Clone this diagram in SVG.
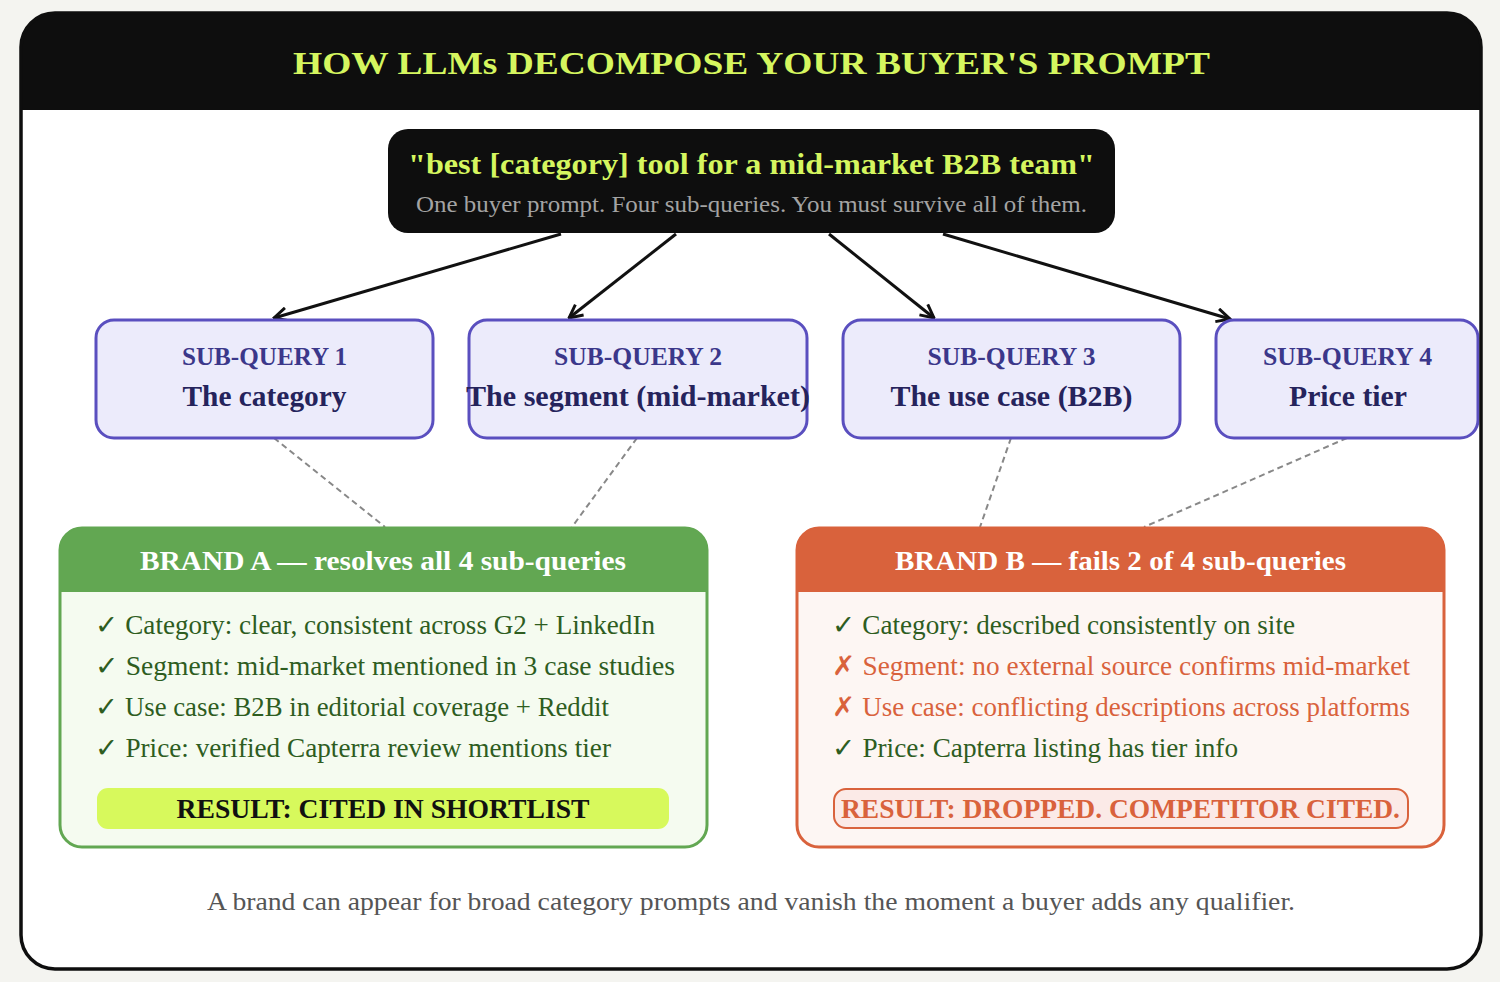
<svg xmlns="http://www.w3.org/2000/svg" width="1500" height="982" viewBox="0 0 1500 982">
<defs>
<style>
text{font-family:"Liberation Serif","DejaVu Serif",serif}
.title{font-weight:bold;font-size:32px;fill:#d5f65f}
.q1{font-weight:bold;font-size:30px;fill:#d5f65f}
.q2{font-size:24px;fill:#a3a3a3}
.sqh{font-weight:bold;font-size:25px;fill:#3b378a}
.sqt{font-weight:bold;font-size:29px;fill:#25235c}
.sq{fill:#ecebfb;stroke:#5a4fbf;stroke-width:3}
.bh{font-weight:bold;font-size:28px;fill:#ffffff}
.ok{font-size:26.5px;fill:#2e5d1f}
.bad{font-size:26.5px;fill:#d9623c}
.arrow{stroke:#111;stroke-width:3;fill:none}
.dash{stroke:#888;stroke-width:2;stroke-dasharray:6 4;fill:none}
.cap{font-size:25px;fill:#555}
</style>
<marker id="ah" viewBox="0 0 12 12" refX="11" refY="6" markerWidth="16" markerHeight="16" markerUnits="userSpaceOnUse" orient="auto">
<path d="M1,1 L11,6 L1,11" fill="none" stroke="#111" stroke-width="2.2"/>
</marker>
</defs>
<rect x="0" y="0" width="1500" height="982" fill="#f4f4f0"/>
<g id="card">
<rect x="21" y="13" width="1460" height="956" rx="34" fill="#ffffff"/>
<path d="M21,110 V47 A34,34 0 0 1 55,13 H1447 A34,34 0 0 1 1481,47 V110 Z" fill="#0e0e0e"/>
<text class="title" x="751.5" y="74" text-anchor="middle" textLength="917" lengthAdjust="spacingAndGlyphs">HOW LLMs DECOMPOSE YOUR BUYER'S PROMPT</text>
</g>
<g id="connectors">
<line class="arrow" x1="561" y1="234" x2="274" y2="318" marker-end="url(#ah)"/>
<line class="arrow" x1="676" y1="234" x2="569" y2="318" marker-end="url(#ah)"/>
<line class="arrow" x1="829" y1="234" x2="934" y2="318" marker-end="url(#ah)"/>
<line class="arrow" x1="943" y1="234" x2="1230" y2="319" marker-end="url(#ah)"/>
<line class="dash" x1="274" y1="438" x2="385" y2="527"/>
<line class="dash" x1="637" y1="438" x2="572" y2="527"/>
<line class="dash" x1="1011" y1="438" x2="980" y2="527"/>
<line class="dash" x1="1347" y1="438" x2="1144" y2="527"/>
</g>
<g id="prompt">
<rect x="388" y="129" width="727" height="104" rx="20" fill="#0e0e0e"/>
<text class="q1" x="751.5" y="174" text-anchor="middle" textLength="687" lengthAdjust="spacingAndGlyphs">"best [category] tool for a mid-market B2B team"</text>
<text class="q2" x="751.5" y="212" text-anchor="middle" textLength="671" lengthAdjust="spacingAndGlyphs">One buyer prompt. Four sub-queries. You must survive all of them.</text>
</g>
<g id="sq1">
<rect class="sq" x="96" y="320" width="337" height="118" rx="18"/>
<text class="sqh" x="264.5" y="365" text-anchor="middle" textLength="165" lengthAdjust="spacingAndGlyphs">SUB-QUERY 1</text>
<text class="sqt" x="264.5" y="406" text-anchor="middle" textLength="164" lengthAdjust="spacingAndGlyphs">The category</text>
</g>
<g id="sq2">
<rect class="sq" x="469" y="320" width="338" height="118" rx="18"/>
<text class="sqh" x="638" y="365" text-anchor="middle" textLength="168" lengthAdjust="spacingAndGlyphs">SUB-QUERY 2</text>
<text class="sqt" x="638" y="406" text-anchor="middle" textLength="344" lengthAdjust="spacingAndGlyphs">The segment (mid-market)</text>
</g>
<g id="sq3">
<rect class="sq" x="843" y="320" width="337" height="118" rx="18"/>
<text class="sqh" x="1011.5" y="365" text-anchor="middle" textLength="168" lengthAdjust="spacingAndGlyphs">SUB-QUERY 3</text>
<text class="sqt" x="1011.5" y="406" text-anchor="middle" textLength="242" lengthAdjust="spacingAndGlyphs">The use case (B2B)</text>
</g>
<g id="sq4">
<rect class="sq" x="1216" y="320" width="262" height="118" rx="18"/>
<text class="sqh" x="1347.5" y="365" text-anchor="middle" textLength="169" lengthAdjust="spacingAndGlyphs">SUB-QUERY 4</text>
<text class="sqt" x="1348" y="406" text-anchor="middle" textLength="118" lengthAdjust="spacingAndGlyphs">Price tier</text>
</g>
<g id="brandA">
<rect x="60" y="528" width="647" height="319" rx="22" fill="#f5fbf0" stroke="#62a752" stroke-width="3"/>
<path d="M60,592 V550 A22,22 0 0 1 82,528 H685 A22,22 0 0 1 707,550 V592 Z" fill="#62a752"/>
<text class="bh" x="383" y="570" text-anchor="middle" textLength="486" lengthAdjust="spacingAndGlyphs">BRAND A — resolves all 4 sub-queries</text>
<text class="ok" x="95" y="634" textLength="560" lengthAdjust="spacingAndGlyphs">✓ Category: clear, consistent across G2 + LinkedIn</text>
<text class="ok" x="95" y="675" textLength="580" lengthAdjust="spacingAndGlyphs">✓ Segment: mid-market mentioned in 3 case studies</text>
<text class="ok" x="95" y="716" textLength="514" lengthAdjust="spacingAndGlyphs">✓ Use case: B2B in editorial coverage + Reddit</text>
<text class="ok" x="95" y="757" textLength="516" lengthAdjust="spacingAndGlyphs">✓ Price: verified Capterra review mentions tier</text>
<rect x="97" y="788" width="572" height="41" rx="11" fill="#d7f95c"/>
<text x="383" y="818" text-anchor="middle" font-weight="bold" font-size="27" fill="#111" textLength="413" lengthAdjust="spacingAndGlyphs">RESULT: CITED IN SHORTLIST</text>
</g>
<g id="brandB">
<rect x="797" y="528" width="647" height="319" rx="22" fill="#fdf6f3" stroke="#d9623c" stroke-width="3"/>
<path d="M797,592 V550 A22,22 0 0 1 819,528 H1422 A22,22 0 0 1 1444,550 V592 Z" fill="#d9623c"/>
<text class="bh" x="1120.5" y="570" text-anchor="middle" textLength="451" lengthAdjust="spacingAndGlyphs">BRAND B — fails 2 of 4 sub-queries</text>
<text class="ok" x="832" y="634" textLength="463" lengthAdjust="spacingAndGlyphs">✓ Category: described consistently on site</text>
<text class="bad" x="832" y="675" textLength="578" lengthAdjust="spacingAndGlyphs">✗ Segment: no external source confirms mid-market</text>
<text class="bad" x="832" y="716" textLength="578" lengthAdjust="spacingAndGlyphs">✗ Use case: conflicting descriptions across platforms</text>
<text class="ok" x="832" y="757" textLength="406" lengthAdjust="spacingAndGlyphs">✓ Price: Capterra listing has tier info</text>
<rect x="834" y="789" width="574" height="39" rx="12" fill="#fbeae7" stroke="#d9623c" stroke-width="2"/>
<text x="1120.5" y="818" text-anchor="middle" font-weight="bold" font-size="27" fill="#d9623c" textLength="559" lengthAdjust="spacingAndGlyphs">RESULT: DROPPED. COMPETITOR CITED.</text>
</g>
<g id="caption">
<text class="cap" x="751" y="910" text-anchor="middle" textLength="1088" lengthAdjust="spacingAndGlyphs">A brand can appear for broad category prompts and vanish the moment a buyer adds any qualifier.</text>
</g>
<rect x="21" y="13" width="1460" height="956" rx="34" fill="none" stroke="#0e0e0e" stroke-width="3.5"/>
</svg>
